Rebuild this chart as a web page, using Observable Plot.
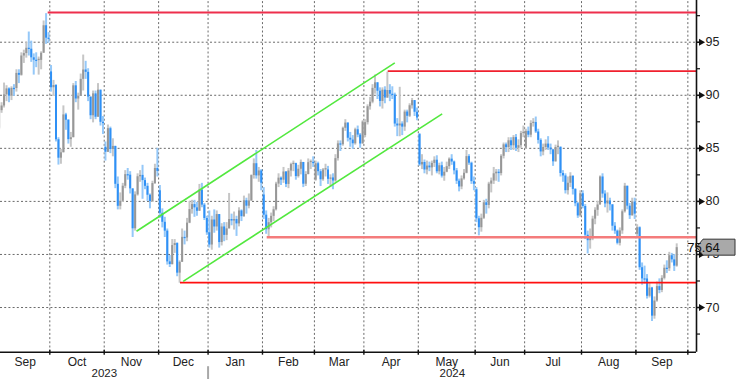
<!DOCTYPE html>
<html><head><meta charset="utf-8">
<script src="https://cdn.jsdelivr.net/npm/d3@7"></script>
<script src="https://cdn.jsdelivr.net/npm/@observablehq/plot@0.6"></script>
<style>html,body{margin:0;padding:0;background:#fff;overflow:hidden}#chart svg{display:block}</style>
</head><body><div id="chart"></div>
<script>
// ---- Month axis (trading days per month, Sep 2023 .. Sep 2024) ----
const monthNames = ["Sep","Oct","Nov","Dec","Jan","Feb","Mar","Apr","May","Jun","Jul","Aug","Sep"];
const monthDays  = [21,22,22,20,22,21,20,22,23,20,23,22,21];
const yearLabels = ["2023","2024"];
const yearFirstMonth = [0,4];

// ---- Daily bars (close / high / low), one row per month ----
const close = [
 88.55,88.99,90.04,90.60,89.92,90.65,90.64,92.06,91.88,93.70,93.93,94.43,94.34,93.53,93.30,93.27,93.29,93.96,96.55,95.38,95.31,
 90.71,90.92,85.81,84.07,84.58,88.15,87.65,85.82,86.00,90.89,89.65,89.90,91.50,92.38,92.16,89.83,88.07,90.13,87.93,90.48,87.45,87.41,
 84.63,86.85,84.89,85.18,81.61,79.54,80.01,81.43,82.52,82.47,81.18,77.42,80.61,82.32,82.45,81.96,81.42,80.58,79.98,81.68,83.10,82.83,
 78.88,78.03,77.20,74.30,74.05,75.84,76.03,73.24,74.26,76.61,76.55,77.95,79.23,79.70,79.39,79.07,81.07,79.65,78.39,77.04,
 75.89,78.25,77.59,78.76,76.12,77.59,76.80,77.41,78.29,78.15,78.29,77.88,79.10,78.56,80.06,79.55,80.04,82.43,83.55,82.40,82.87,81.71,
 78.70,77.33,77.99,78.59,79.21,81.63,82.19,82.00,82.77,81.60,82.86,83.47,83.56,82.34,83.03,83.67,81.62,82.53,83.65,83.68,83.62,
 83.55,82.80,82.04,82.96,82.96,82.08,82.21,81.92,84.03,85.42,85.34,86.89,87.38,85.95,85.78,85.43,86.75,86.25,85.41,87.48,
 87.42,88.92,89.35,90.65,91.17,90.38,89.42,90.48,89.74,90.45,90.10,90.02,87.29,87.11,87.29,87.00,88.42,88.02,89.01,89.50,88.40,87.86,
 83.44,83.67,82.96,83.33,83.16,83.58,83.88,82.79,83.36,82.38,82.75,83.27,83.98,83.71,82.88,81.90,81.36,82.12,82.65,84.22,83.60,81.86,81.62,
 78.36,77.52,78.41,79.87,79.62,81.63,81.92,82.60,82.75,82.62,84.25,85.33,85.07,85.71,85.24,86.01,85.01,85.25,86.39,86.41,
 86.60,86.24,87.34,87.43,86.54,85.75,84.66,85.08,85.40,85.03,84.85,83.73,85.08,85.11,82.63,82.40,81.01,81.71,82.37,81.13,79.78,78.63,80.72,
 79.52,76.81,76.30,76.48,78.33,79.16,79.66,82.30,80.69,79.76,80.04,79.68,77.66,77.20,76.05,77.22,79.02,81.43,79.55,78.65,79.94,78.80,
 77.52,73.75,72.70,72.69,71.06,71.84,69.19,70.61,71.97,71.61,72.75,73.70,73.65,74.88,74.49,73.90,75.64
];
const high = [
 88.75,89.30,91.15,90.90,90.70,90.80,91.00,92.40,92.40,94.00,94.25,94.96,95.96,95.10,93.90,94.00,93.60,94.10,97.00,97.69,95.90,
 92.80,91.40,91.00,86.00,84.90,89.00,88.30,87.70,86.50,91.10,91.30,90.20,92.00,93.79,93.20,92.50,89.70,90.40,90.40,91.10,90.20,88.00,
 85.60,87.20,87.00,85.90,85.20,82.30,80.80,81.70,82.90,83.10,82.80,81.10,80.90,82.60,82.90,83.40,82.20,81.70,80.70,81.90,83.50,85.00,
 81.50,79.30,78.50,77.40,74.90,76.40,76.40,76.10,74.40,77.40,77.20,78.40,80.00,80.10,80.10,79.90,81.60,81.70,79.80,78.60,
 79.10,78.60,79.20,79.10,78.50,77.90,78.00,78.00,80.75,78.80,79.00,78.60,79.40,79.20,80.50,80.30,80.70,82.50,84.00,84.80,83.20,83.00,
 81.30,79.10,78.40,78.90,79.50,81.80,82.60,82.30,83.20,82.80,83.10,83.60,83.80,83.60,83.40,83.90,83.60,82.80,84.00,83.90,84.20,
 83.80,83.70,83.00,83.10,83.50,83.30,82.50,82.60,84.40,85.70,85.70,87.00,87.70,87.40,86.50,86.20,86.90,87.10,86.40,87.60,
 87.70,89.10,89.80,91.00,91.91,91.20,90.70,90.70,90.80,92.18,91.00,90.80,90.20,87.80,90.75,87.50,88.60,88.60,89.20,89.70,89.50,88.80,
 86.40,84.40,83.90,83.80,83.70,83.80,84.20,84.30,83.60,83.70,83.20,83.70,84.10,84.40,83.80,83.10,82.10,82.40,83.00,84.80,84.40,83.70,82.30,
 81.30,78.60,78.80,80.10,80.20,81.80,82.20,83.20,83.00,83.00,84.40,85.50,85.50,86.00,86.00,86.20,86.30,85.80,86.60,87.10,
 86.80,87.00,87.60,87.80,87.95,86.80,85.90,85.40,85.80,86.10,85.40,84.90,85.30,85.70,85.10,82.90,82.60,82.30,82.70,82.40,81.20,79.90,81.00,
 81.00,79.70,77.20,77.40,78.60,79.40,80.00,82.40,82.60,81.00,80.80,80.30,79.60,78.00,77.30,77.50,79.20,81.70,81.30,79.80,80.30,80.30,
 77.80,77.60,74.20,73.90,73.10,72.30,71.90,71.00,72.40,72.70,73.00,74.00,74.40,75.20,75.10,75.00,76.00
];
const low = [
 86.75,88.30,88.80,89.40,89.30,89.50,89.90,90.30,91.10,91.80,93.00,93.50,93.70,93.10,91.90,92.60,91.90,92.40,94.00,94.80,94.90,
 90.30,89.90,85.60,83.42,83.50,85.90,86.70,85.40,85.10,86.30,89.30,88.60,89.90,90.40,91.50,89.40,87.70,87.40,87.70,88.10,87.10,86.30,
 83.80,84.60,84.50,84.20,81.20,79.20,79.20,79.90,81.20,82.00,80.70,76.60,77.20,80.50,81.80,80.20,81.10,80.00,79.30,79.90,81.60,82.30,
 78.40,77.50,76.60,74.00,73.77,74.00,75.10,72.90,72.29,74.60,75.90,76.20,77.90,78.80,78.50,78.60,79.10,79.40,78.20,76.80,
 75.60,75.40,77.00,77.20,75.60,75.80,76.20,76.30,77.70,77.70,77.30,76.70,77.60,78.10,78.50,78.80,79.30,80.00,82.10,82.10,81.80,81.00,
 78.30,76.90,76.62,77.50,78.10,79.10,81.30,81.50,81.70,81.30,81.20,82.30,82.80,82.00,82.20,82.50,81.30,81.40,82.50,83.00,83.20,
 81.90,82.40,81.40,81.90,82.30,81.60,81.30,81.10,81.80,83.80,84.70,85.20,86.60,85.60,85.10,84.90,85.30,86.00,85.00,85.60,
 86.00,87.20,88.60,89.20,90.10,89.60,88.90,88.70,89.20,89.70,89.40,89.60,87.00,86.10,86.09,86.20,86.60,87.40,87.90,88.70,88.00,87.60,
 83.30,83.00,82.60,82.50,82.80,82.40,83.20,82.60,82.50,82.20,81.90,82.70,83.00,83.40,82.50,81.60,80.90,81.10,82.00,82.60,83.40,81.60,81.00,
 78.00,76.76,77.10,78.30,78.80,79.30,80.80,81.60,81.90,81.80,82.40,84.00,84.60,84.60,84.80,84.80,84.70,84.60,85.00,86.00,
 84.90,86.00,86.00,87.00,86.40,85.40,84.20,84.30,84.80,84.80,84.40,83.30,83.70,84.40,82.30,81.80,80.70,80.60,81.30,80.60,79.50,78.40,78.50,
 79.30,76.40,75.05,75.50,76.30,77.80,78.60,79.80,80.30,79.40,78.90,79.10,77.20,76.90,75.90,75.80,76.90,78.90,79.20,78.30,78.60,78.30,
 76.70,73.50,72.10,72.20,70.80,70.90,68.68,68.90,70.50,71.30,71.40,72.60,73.20,73.40,74.20,73.40,73.80
];
const firstOpen = 86.90;
// opens on front-month roll days (new contract's open)
const rollDays  = [21,43,65,107,128,148,170,193,213,258];
const rollOpens = [92.2,85.1,81.0,80.6,82.0,86.2,86.3,81.1,85.0,76.9];
const lastPrice = 75.64;

// ---- Annotation lines (levels and trend channel), in price / trading-day units ----
const levelValues = [97.8, 92.27, 76.62, 72.35];
const levelStarts = [20.35, 157.84, 108.9, 73.85];
const levelColors = ["#ee2f4c", "#f0202e", "#f47c7c", "#ff1010"];
const levelWidths = [2.2, 1.8, 2.4, 1.6];
const channelX1 = [56.06, 74.94], channelY1 = [77.19, 72.47];
const channelX2 = [160.5, 179.67], channelY2 = [93.06, 88.25];

const yTicks = [70,75,80,85,90,95];
const yMinor = [67.5,72.5,77.5,82.5,87.5,92.5,97.5];

// ---- Layout ----
const W = 736, H = 379, mR = 40, mB = 27.3;
const pL = 1.064, pR = 282.5;     // visible trading-day window
const yLo = 65.79, yHi = 98.93;
const pxX = (W - mR) / (pR - pL), pxY = (H - mB) / (yHi - yLo);

const n = Math.min(close.length, high.length, low.length);
const bars = [];
for (let i = 0; i < n; i++) {
  const r = rollDays.indexOf(i);
  const o = i === 0 ? firstOpen : (r >= 0 ? rollOpens[r] : close[i-1]);
  const c = close[i];
  const lo = Math.min(low[i], o, c), hi = Math.max(high[i], o, c);
  let b2 = c;
  if (Math.abs(c - o) < 0.12) b2 = o + (c >= o ? 0.12 : -0.12);
  bars.push({p: i + 0.5, o, c, b2, lo, hi, up: c >= o});
}
const upBars = bars.filter(d => d.up), dnBars = bars.filter(d => !d.up);

const monthStart = [0];
monthDays.forEach(d => monthStart.push(monthStart[monthStart.length-1] + d));
const gridX = monthStart.slice(1);
const monthLab = monthNames.map((m, i) => ({m, p: (Math.max(monthStart[i], pL) + Math.min(monthStart[i+1], pR)) / 2}));
const yearLab = yearLabels.map((y, i) => {
  const a = Math.max(monthStart[yearFirstMonth[i]], pL);
  const b = i + 1 < yearLabels.length ? monthStart[yearFirstMonth[i+1]] : pR;
  return {y, p: (a + b) / 2};
});
const yearSep = yearFirstMonth.slice(1).map(k => monthStart[k]);

const channels = channelX1.map((x1, i) => ({x1, y1: channelY1[i], x2: channelX2[i], y2: channelY2[i]}));

const font = "'Liberation Sans', Arial, sans-serif";
const grid = {stroke: "#6a6a6a", strokeWidth: 1, strokeDasharray: "2,2.2"};

const chart = Plot.plot({
  width: W, height: H,
  marginLeft: 0, marginRight: mR, marginTop: 0, marginBottom: mB,
  x: {type: "linear", domain: [pL, pR], axis: null},
  y: {type: "linear", domain: [yLo, yHi], axis: null},
  style: {fontFamily: font, fontSize: "12px", background: "#fff", overflow: "visible"},
  marks: [
    Plot.ruleY(yTicks, {y: d => d, x1: pL, x2: pR, ...grid}),
    Plot.ruleX(gridX, {x: d => d, y1: yLo, y2: yHi, ...grid}),
    // bars: high-low wick, then open-close body
    Plot.ruleX(upBars, {x: "p", y1: "lo", y2: "hi", stroke: "#c6c6c6", strokeWidth: 2}),
    Plot.ruleX(dnBars, {x: "p", y1: "lo", y2: "hi", stroke: "#95c8f8", strokeWidth: 2}),
    Plot.ruleX(upBars, {x: "p", y1: "o", y2: "b2", stroke: "#979797", strokeWidth: 2}),
    Plot.ruleX(dnBars, {x: "p", y1: "o", y2: "b2", stroke: "#2f90f5", strokeWidth: 2}),
    // annotation lines
    ...levelValues.map((v, i) => Plot.ruleY([v], {y: d => d, x1: levelStarts[i], x2: pR, stroke: levelColors[i], strokeWidth: levelWidths[i]})),
    Plot.link(channels, {x1: "x1", y1: "y1", x2: "x2", y2: "y2", stroke: "#52e83e", strokeWidth: 1.6}),
    // axes
    Plot.ruleY([yLo], {y: d => d, x1: pL, x2: pR, stroke: "#111", strokeWidth: 1.6}),
    Plot.ruleX([pR], {x: d => d, y1: yLo, y2: yHi, stroke: "#111", strokeWidth: 1.6}),
    Plot.ruleX(gridX, {x: d => d, y1: yLo + 2 / pxY, y2: yLo - 3 / pxY, stroke: "#111", strokeWidth: 1.4}),
    Plot.ruleY(yMinor, {y: d => d, x1: pR, x2: pR + 4 / pxX, stroke: "#111", strokeWidth: 1.2}),
    Plot.ruleY(yTicks, {y: d => d, x1: pR, x2: pR + 4 / pxX, stroke: "#111", strokeWidth: 1.6}),
    Plot.dot(yTicks, {x: pR, y: d => d, symbol: "triangle", r: 2.6, fill: "#111", rotate: 90, dx: 4.5}),
    Plot.text(yTicks, {x: pR, y: d => d, text: d => String(d), dx: 9, textAnchor: "start", fontSize: 12.5, fill: "#222"}),
    Plot.text(monthLab, {x: "p", y: yLo, text: "m", dy: 9.5, fontSize: 12, fill: "#222"}),
    Plot.text(yearLab, {x: "p", y: yLo, text: "y", dy: 21.2, fontSize: 11.5, fill: "#222"}),
    Plot.ruleX(yearSep, {x: d => d, y1: yLo - 14.5 / pxY, y2: yLo - 28 / pxY, stroke: "#a8a8a8", strokeWidth: 2})
  ]
});

// last-price tag on the right axis
const sy = chart.scale("y"), sx = chart.scale("x");
const yy = sy.apply(lastPrice), xr = sx.apply(pR);
const g = d3.select(chart).append("g");
g.append("path")
  .attr("d", `M${xr + 0.5},${yy} L${xr + 7},${yy - 8} L${W - 1},${yy - 8} L${W - 1},${yy + 8} L${xr + 7},${yy + 8} Z`)
  .attr("fill", "#a9a9a9").attr("stroke", "#333").attr("stroke-width", 1);
g.append("text").attr("x", xr + 7.5).attr("y", yy).attr("dy", "0.36em")
  .attr("font-family", font).attr("font-size", 13).attr("fill", "#111")
  .text(lastPrice.toFixed(2));

document.getElementById("chart").appendChild(chart);
</script></body></html>
